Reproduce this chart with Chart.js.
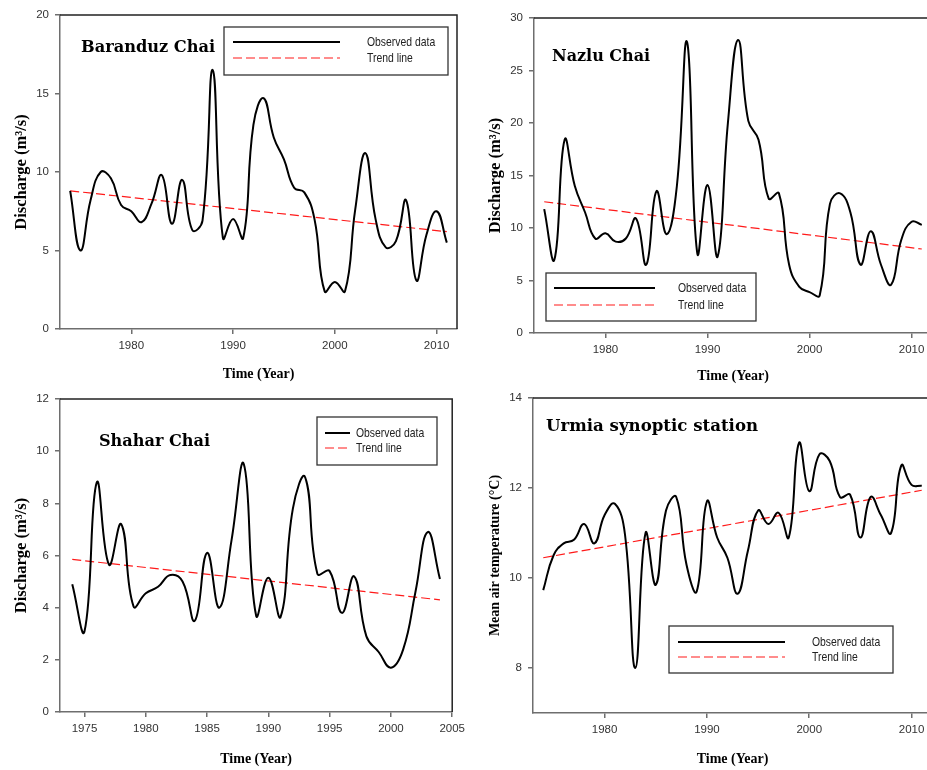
<!DOCTYPE html>
<html>
<head>
<meta charset="utf-8">
<script src="https://cdn.jsdelivr.net/npm/chart.js@4.4.1/dist/chart.umd.min.js"></script>
<style>
  body { margin: 0; background: #fff; overflow: hidden; }
  .panel { position: absolute; overflow: hidden; }
</style>
</head>
<body>
<div class="panel" style="left:0;top:0;width:470px;height:385px"><canvas id="c1" width="470" height="385"></canvas></div>
<div class="panel" style="left:470px;top:0;width:457px;height:385px"><canvas id="c2" width="470" height="385"></canvas></div>
<div class="panel" style="left:0;top:385px;width:470px;height:385px"><canvas id="c3" width="470" height="385"></canvas></div>
<div class="panel" style="left:470px;top:385px;width:457px;height:385px"><canvas id="c4" width="470" height="385"></canvas></div>
<script>
// years of record
const years = [1974, 1975, 1976, 1977, 1978, 1979, 1980, 1981, 1982, 1983,
               1984, 1985, 1986, 1987, 1988, 1989, 1990, 1991, 1992, 1993,
               1994, 1995, 1996, 1997, 1998, 1999, 2000, 2001, 2002, 2003,
               2004, 2005, 2006, 2007, 2008, 2009, 2010, 2011];
const shaharYears = [1974, 1975, 1976, 1977, 1978, 1979, 1980, 1981, 1982, 1983,
                     1984, 1985, 1986, 1987, 1988, 1989, 1990, 1991, 1992, 1993,
                     1994, 1995, 1996, 1997, 1998, 1999, 2000, 2001, 2002, 2003, 2004];

// observed series
const baranduz = [8.8, 5.0, 8.2, 10.0, 9.6, 7.9, 7.5, 6.8, 8.0, 9.8,
                  6.7, 9.5, 6.3, 6.9, 16.5, 5.8, 7.0, 5.8, 13.0, 14.7,
                  12.2, 10.8, 9.0, 8.7, 7.0, 2.4, 3.0, 2.4, 7.6, 11.2,
                  7.0, 5.2, 5.6, 8.2, 3.1, 6.0, 7.5, 5.5];
const nazlu = [11.8, 7.0, 18.4, 14.0, 11.5, 9.0, 9.5, 8.7, 9.0, 10.9,
               6.5, 13.5, 9.4, 14.0, 27.7, 7.6, 14.1, 7.3, 20.0, 27.9,
               20.2, 18.4, 12.8, 13.3, 6.5, 4.4, 3.9, 3.6, 12.3, 13.3,
               11.5, 6.5, 9.7, 6.5, 4.6, 8.9, 10.6, 10.3];
const shahar = [4.9, 3.1, 8.8, 5.65, 7.2, 4.05, 4.55, 4.8, 5.25, 5.0,
                3.5, 6.1, 4.0, 6.6, 9.5, 3.7, 5.15, 3.65, 7.8, 9.0,
                5.3, 5.4, 3.8, 5.2, 2.9, 2.3, 1.7, 2.4, 4.6, 6.9, 5.1];
const urmia = [9.73, 10.5, 10.77, 10.85, 11.2, 10.77, 11.4, 11.65, 10.95, 8.0,
               11.0, 9.85, 11.5, 11.8, 10.3, 9.7, 11.7, 10.9, 10.45, 9.65,
               10.6, 11.5, 11.2, 11.45, 10.9, 13.0, 11.93, 12.75, 12.6, 11.8,
               11.85, 10.9, 11.8, 11.4, 11.0, 12.5, 12.07, 12.05];

// trend lines (start / end of record)
const trendYears = [1974, 2011];
const shaharTrendYears = [1974, 2004];
const baranduzTrend = [8.8, 6.2];
const nazluTrend = [12.5, 8.0];
const shaharTrend = [5.85, 4.3];
const urmiaTrend = [10.45, 11.95];

// axis ticks
const yearTicks = [1980, 1990, 2000, 2010];
const shaharYearTicks = [1975, 1980, 1985, 1990, 1995, 2000, 2005];
const baranduzTicks = [0, 5, 10, 15, 20];
const nazluTicks = [0, 5, 10, 15, 20, 25, 30];
const shaharTicks = [0, 2, 4, 6, 8, 10, 12];
const urmiaTicks = [8, 10, 12, 14];

const legendLabels = ['Observed data', 'Trend line'];

const tickFont = { family: "'Liberation Sans', Arial, sans-serif", size: 11.5 };
const axisGray = '#6e6e6e';

const panelDecor = {
    id: 'panelDecor',
    afterDraw(chart, args, opts) {
        const ctx = chart.ctx;
        const a = chart.chartArea;
        ctx.save();
        // top and right frame
        ctx.strokeStyle = '#222';
        ctx.lineWidth = 1.5;
        ctx.beginPath();
        ctx.moveTo(a.left, a.top);
        ctx.lineTo(a.right, a.top);
        ctx.lineTo(a.right, a.bottom);
        ctx.stroke();

        // panel title, fitted to width
        ctx.fillStyle = '#000';
        ctx.textBaseline = 'middle';
        ctx.font = "bold 16px 'DejaVu Serif', serif";
        const w = ctx.measureText(opts.title).width;
        const size = 16 * opts.titleW / w;
        ctx.font = "bold " + size.toFixed(1) + "px 'DejaVu Serif', serif";
        ctx.fillText(opts.title, opts.titleX, opts.titleY);

        // legend box
        const b = opts.box;
        ctx.strokeStyle = '#333';
        ctx.lineWidth = 1.3;
        ctx.strokeRect(b.x, b.y, b.w, b.h);
        ctx.font = "13px 'Liberation Sans', Arial, sans-serif";
        chart.data.datasets.forEach((ds, i) => {
            const y = b.rows[i];
            ctx.strokeStyle = ds.borderColor;
            ctx.lineWidth = ds.borderWidth;
            ctx.setLineDash(ds.borderDash || []);
            ctx.beginPath();
            ctx.moveTo(b.x1, y);
            ctx.lineTo(b.x2, y);
            ctx.stroke();
            ctx.setLineDash([]);
            ctx.fillStyle = '#222';
            // condensed, like the original narrow face
            ctx.save();
            ctx.translate(b.textX, y);
            ctx.scale(0.8, 1);
            ctx.fillText(ds.label, 0, 0);
            ctx.restore();
        });
        ctx.restore();
    }
};

function makePanel(id, p) {
    const obs = p.x.map((x, i) => ({ x: x, y: p.obs[i] }));
    const trend = p.tx.map((x, i) => ({ x: x, y: p.trend[i] }));
    return new Chart(document.getElementById(id), {
        type: 'line',
        data: {
            datasets: [{
                label: legendLabels[0],
                data: obs,
                borderColor: '#000',
                borderWidth: 2,
                pointRadius: 0,
                tension: 0.45,
                fill: false
            }, {
                label: legendLabels[1],
                data: trend,
                borderColor: '#ff1a1a',
                borderWidth: 1.2,
                borderDash: [9, 4],
                pointRadius: 0,
                fill: false
            }]
        },
        options: {
            responsive: false,
            animation: false,
            layout: { padding: p.pad },
            plugins: {
                legend: { display: false },
                tooltip: { enabled: false },
                panelDecor: p.decor
            },
            scales: {
                x: {
                    type: 'linear',
                    min: p.xMin,
                    max: p.xMax,
                    afterBuildTicks: axis => { axis.ticks = p.xTicks.map(v => ({ value: v })); },
                    afterFit: axis => { axis.height = p.xH; },
                    ticks: {
                        autoSkip: false, maxRotation: 0, padding: 5,
                        color: '#333', font: tickFont,
                        callback: v => String(v)
                    },
                    grid: { drawOnChartArea: false, tickLength: 5, color: axisGray, lineWidth: 1.5 },
                    border: { color: axisGray, width: 1.5 },
                    title: {
                        display: true, text: 'Time (Year)', color: '#000',
                        font: { family: "'Liberation Serif', 'Times New Roman', serif", size: 14, weight: 'bold' },
                        padding: { top: 0, bottom: p.xTitlePad }
                    }
                },
                y: {
                    min: p.yMin,
                    max: p.yMax,
                    afterBuildTicks: axis => { axis.ticks = p.yTicks.map(v => ({ value: v })); },
                    afterFit: axis => { axis.width = p.yW; },
                    ticks: { padding: 6, color: '#333', font: tickFont, callback: v => String(v) },
                    grid: { drawOnChartArea: false, tickLength: 5, color: axisGray, lineWidth: 1.5 },
                    border: { color: axisGray, width: 1.5 },
                    title: {
                        display: true, text: p.yTitle, color: '#000',
                        font: { family: "'Liberation Serif', 'Times New Roman', serif", size: p.yTitleSize, weight: 'bold' },
                        padding: { top: p.yTitlePad, bottom: 0 }
                    }
                }
            }
        },
        plugins: [panelDecor]
    });
}

makePanel('c1', {
    x: years, obs: baranduz, tx: trendYears, trend: baranduzTrend,
    xMin: 1973, xMax: 2012, xTicks: yearTicks,
    yMin: 0, yMax: 20, yTicks: baranduzTicks,
    yTitle: 'Discharge (m³/s)', yTitleSize: 16.5, yTitlePad: 12,
    pad: { left: 0, top: 15, right: 13, bottom: 0 }, yW: 60, xH: 56, xTitlePad: 2,
    decor: {
        title: 'Baranduz Chai', titleX: 81, titleY: 48, titleW: 134,
        box: { x: 224, y: 27, w: 224, h: 48, x1: 233, x2: 340, textX: 367, rows: [42, 58] }
    }
});

makePanel('c2', {
    x: years, obs: nazlu, tx: trendYears, trend: nazluTrend,
    xMin: 1973, xMax: 2012, xTicks: yearTicks,
    yMin: 0, yMax: 30, yTicks: nazluTicks,
    yTitle: 'Discharge (m³/s)', yTitleSize: 16.5, yTitlePad: 16,
    pad: { left: 0, top: 18, right: 8, bottom: 0 }, yW: 64, xH: 52, xTitlePad: 0,
    decor: {
        title: 'Nazlu Chai', titleX: 82, titleY: 57, titleW: 98,
        box: { x: 76, y: 273, w: 210, h: 48, x1: 84, x2: 185, textX: 208, rows: [288, 305] }
    }
});

makePanel('c3', {
    x: shaharYears, obs: shahar, tx: shaharTrendYears, trend: shaharTrend,
    xMin: 1973, xMax: 2005, xTicks: shaharYearTicks,
    yMin: 0, yMax: 12, yTicks: shaharTicks,
    yTitle: 'Discharge (m³/s)', yTitleSize: 16.5, yTitlePad: 12,
    pad: { left: 0, top: 14, right: 14, bottom: 0 }, yW: 60, xH: 58, xTitlePad: 2,
    decor: {
        title: 'Shahar Chai', titleX: 99, titleY: 57, titleW: 111,
        box: { x: 317, y: 32, w: 120, h: 48, x1: 325, x2: 350, textX: 356, rows: [48, 63] }
    }
});

makePanel('c4', {
    x: years, obs: urmia, tx: trendYears, trend: urmiaTrend,
    xMin: 1973, xMax: 2012, xTicks: yearTicks,
    yMin: 7, yMax: 14, yTicks: urmiaTicks,
    yTitle: 'Mean air temperature (°C)', yTitleSize: 14, yTitlePad: 17,
    pad: { left: 0, top: 13, right: 8, bottom: 0 }, yW: 63, xH: 57, xTitlePad: 2,
    decor: {
        title: 'Urmia synoptic station', titleX: 76, titleY: 42, titleW: 212,
        box: { x: 199, y: 241, w: 224, h: 47, x1: 208, x2: 315, textX: 342, rows: [257, 272] }
    }
});
</script>
</body>
</html>
